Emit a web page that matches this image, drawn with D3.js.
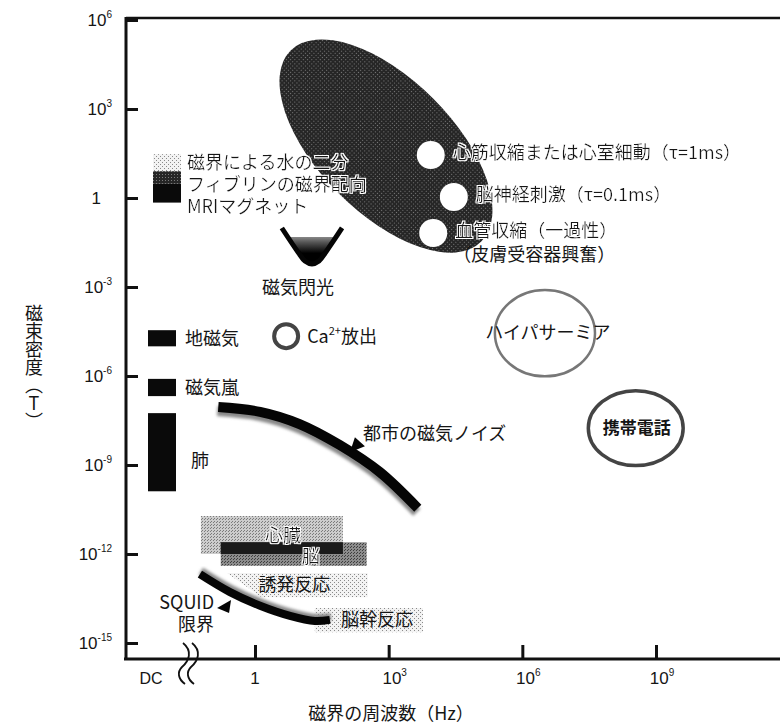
<!DOCTYPE html>
<html>
<head>
<meta charset="utf-8">
<script src="https://cdn.jsdelivr.net/npm/d3@7"></script>
<style>
body { margin: 0; background: #fff; }
svg text { font-family: "Noto Sans CJK JP", "Noto Sans", sans-serif; fill: #151515; }
svg text.tick { font-family: "Liberation Sans", "DejaVu Sans", sans-serif; }
</style>
</head>
<body>
<div id="chart"></div>
<script>
// ---- data (frequency in Hz, flux density in T) ----
var xTicks = [1, 1e3, 1e6, 1e9];
var xTickExp = ["", "3", "6", "9"];
var yTicks = [1e6, 1e3, 1, 1e-3, 1e-6, 1e-9, 1e-12, 1e-15];
var yTickExp = ["6", "3", "", "-3", "-6", "-9", "-12", "-15"];

// DC column: [label, Bmin, Bmax]
var dcStack = [["磁界による水の二分", 8, 30], ["フィブリンの磁界配向", 3, 8], ["MRIマグネット", 0.7, 3]];
var dcBars = [["地磁気", 1e-5, 3.5e-5], ["磁気嵐", 2.1e-7, 8e-7], ["肺", 1.3e-10, 5.6e-8]];

// stimulation region: major axis end points [f, B]
var stimAxis = [[6.3, 9.4e4], [1.2e5, 0.034]];
var stimPoints = [["心筋収縮または心室細動（τ=1ms）", 8800, 28],
                  ["脳神経刺激（τ=0.1ms）", 2.9e4, 1.08],
                  ["血管収縮（一過性）", 1e4, 0.066]];
var stimNote = "（皮膚受容器興奮）";

// magnetophosphene threshold
var phosF = [4, 9.2, 13.2, 19, 27.3, 39, 90];
var phosB = [0.0975, 0.0151, 0.0075, 0.006, 0.0075, 0.0151, 0.0975];
var phosFillTop = 0.048;

var caPoint = [5, 2.2e-5];

var hyperF = [2.3e5, 4.5e7], hyperB = [9e-7, 8.5e-4];
var mobileF = [2.8e7, 4.4e9], mobileB = [8.5e-10, 3.6e-7];

var noiseF = [0.15, 1.3, 10, 80, 630, 4500];
var noiseB = [9e-8, 6.2e-8, 2.4e-8, 4.7e-9, 5.8e-10, 3.5e-11];
var noiseArrow = [135, 2.7e-9];

var squidF = [0.058, 0.275, 1.3, 6.1, 22, 48];
var squidB = [2.1e-13, 5.2e-14, 1.8e-14, 8.2e-15, 5.5e-15, 6e-15];
var squidArrow = [0.29, 2.8e-14];

// bio-magnetic signals: [label, fmin, fmax, Bmin, Bmax]
var bioBoxes = [["心臓", 0.061, 94, 1e-12, 1.9e-11],
                ["脳", 0.17, 320, 4e-13, 2.5e-12],
                ["誘発反応", 0.235, 340, 3.5e-14, 2.3e-13],
                ["脳幹反応", 22, 5900, 2.3e-15, 1.5e-14]];
var evokedCutF = 1.4;

// ---- styles ----
var bioFill = {"心臓": "url(#heartPat)", "脳": "url(#brainPat)", "誘発反応": "url(#lightDots)", "脳幹反応": "url(#lightDots)"};
var bioLabelDx = {"心臓": 11, "脳": 17, "誘発反応": -3, "脳幹反応": 8};
var bioLabelDy = {"心臓": 1, "脳": 3, "誘発反応": 0, "脳幹反応": 0};
var stackFill = ["url(#lightDots)", "url(#mesh)", "#0a0a0a"];

var W = 780, H = 726;
var axisX = 126, axisY = 659, topY = 18;

var svg = d3.select("#chart").append("svg")
    .attr("width", W)
    .attr("height", H);

var x = d3.scaleLog().domain([1, 1e9]).range([255, 656]);
var y = d3.scaleLog().domain([1e-15, 1e6]).range([643, 20]);
var dc = d3.scaleBand().domain(["DC"]).range([148, 176]);

// patterns
var defs = svg.append("defs");
function pattern(id, size, bg, dots, col) {
    var p = defs.append("pattern").attr("id", id)
        .attr("patternUnits", "userSpaceOnUse")
        .attr("width", size).attr("height", size);
    p.append("rect").attr("width", size).attr("height", size).attr("fill", bg);
    dots.forEach(function(d) {
        p.append("rect").attr("x", d[0]).attr("y", d[1]).attr("width", 1).attr("height", 1).attr("fill", col);
    });
}
pattern("lightDots", 4, "#f3f3f3", [[0, 0], [2, 2]], "#8a8a8a");
pattern("heartPat", 3, "#cdcdcd", [[0, 0], [1, 2]], "#7c7c7c");
pattern("brainPat", 3, "#8c8c8c", [[0, 0], [2, 1]], "#3e3e3e");
pattern("mesh", 3, "#262626", [[0, 0]], "#7a7a7a");

var grad = defs.append("linearGradient").attr("id", "phosGrad")
    .attr("x1", 0).attr("x2", 0).attr("y1", 0).attr("y2", 1);
grad.append("stop").attr("offset", "0%").attr("stop-color", "#dcdcdc");
grad.append("stop").attr("offset", "40%").attr("stop-color", "#555");
grad.append("stop").attr("offset", "70%").attr("stop-color", "#000");

defs.append("filter").attr("id", "fuzz")
    .append("feGaussianBlur").attr("stdDeviation", 1.6);

// white outline for texts lying on dark areas
var halo = defs.append("filter").attr("id", "halo")
    .attr("x", "-5%").attr("y", "-20%").attr("width", "110%").attr("height", "140%");
halo.append("feMorphology").attr("in", "SourceAlpha").attr("operator", "dilate").attr("radius", 1.4).attr("result", "thick");
halo.append("feFlood").attr("flood-color", "#fff").attr("result", "white");
halo.append("feComposite").attr("in", "white").attr("in2", "thick").attr("operator", "in").attr("result", "outline");
var hm = halo.append("feMerge");
hm.append("feMergeNode").attr("in", "outline");
hm.append("feMergeNode").attr("in", "SourceGraphic");

// ---- frame and axes ----
svg.append("line").attr("x1", axisX).attr("x2", W).attr("y1", topY).attr("y2", topY)
    .attr("stroke", "#111").attr("stroke-width", 2.5);
svg.append("line").attr("x1", axisX).attr("x2", axisX).attr("y1", topY - 1).attr("y2", axisY + 1)
    .attr("stroke", "#111").attr("stroke-width", 3);
svg.append("line").attr("x1", axisX - 2).attr("x2", W).attr("y1", axisY).attr("y2", axisY)
    .attr("stroke", "#111").attr("stroke-width", 3);

var yAxis = svg.append("g").attr("transform", "translate(" + axisX + ",0)")
    .call(d3.axisRight(y).tickValues(yTicks).tickSize(12).tickSizeOuter(0).tickFormat(""));
yAxis.select(".domain").remove();
yAxis.selectAll("line").attr("stroke", "#111").attr("stroke-width", 3);

var xAxis = svg.append("g").attr("transform", "translate(0," + axisY + ")")
    .call(d3.axisTop(x).tickValues(xTicks).tickSize(14).tickSizeOuter(0).tickFormat(""));
xAxis.select(".domain").remove();
xAxis.selectAll("line").attr("stroke", "#111").attr("stroke-width", 3);

// y tick labels
yTicks.forEach(function(t, i) {
    var tx = svg.append("text")
        .attr("class", "tick")
        .attr("y", y(t) + 6)
        .attr("text-anchor", "end")
        .style("font-size", "17px");
    if (yTickExp[i] === "") {
        tx.attr("x", axisX - 25).text("1");
    } else {
        tx.attr("x", axisX - 14).text("10");
        tx.append("tspan").attr("dy", -8).style("font-size", "10px").text(yTickExp[i]);
    }
});

// x tick labels
xTicks.forEach(function(t, i) {
    var tx = svg.append("text")
        .attr("class", "tick")
        .attr("y", axisY + 25)
        .attr("text-anchor", "middle")
        .style("font-size", "17px");
    if (xTickExp[i] === "") {
        tx.attr("x", x(t)).text("1");
    } else {
        tx.attr("x", x(t) + 6).text("10");
        tx.append("tspan").attr("dy", -8).style("font-size", "10px").text(xTickExp[i]);
    }
});
svg.append("text")
    .attr("class", "tick")
    .attr("x", dc("DC") + 3)
    .attr("y", axisY + 25)
    .attr("text-anchor", "middle")
    .style("font-size", "16px")
    .text("DC");

// axis break
[0, 9].forEach(function(off) {
    var bx = 183 + off;
    svg.append("path")
        .attr("d", "M" + bx + "," + (axisY - 16) + " C" + (bx + 10) + "," + (axisY - 8) + " " + (bx + 6) + "," + (axisY + 2) + " " + (bx - 1) + "," + (axisY + 8) +
            " C" + (bx - 6) + "," + (axisY + 13) + " " + (bx - 5) + "," + (axisY + 20) + " " + (bx + 2) + "," + (axisY + 25))
        .attr("fill", "none").attr("stroke", "#111").attr("stroke-width", 1.8);
});

// axis titles
svg.append("text")
    .attr("x", 391).attr("y", 720)
    .attr("text-anchor", "middle")
    .style("font-size", "18px")
    .text("磁界の周波数（Hz）");
svg.append("text")
    .attr("x", 34).attr("y", 367)
    .attr("text-anchor", "middle")
    .style("font-size", "18px")
    .style("writing-mode", "vertical-rl")
    .style("text-orientation", "upright")
    .text("磁束密度（T）");

// ---- stimulation ellipse ----
var p0 = [x(stimAxis[0][0]), y(stimAxis[0][1])];
var p1 = [x(stimAxis[1][0]), y(stimAxis[1][1])];
var ecx = (p0[0] + p1[0]) / 2, ecy = (p0[1] + p1[1]) / 2;
var ea = Math.hypot(p1[0] - p0[0], p1[1] - p0[1]) / 2;
var eang = Math.atan2(p1[1] - p0[1], p1[0] - p0[0]) * 180 / Math.PI;
svg.append("ellipse")
    .attr("cx", 0).attr("cy", 0)
    .attr("rx", ea).attr("ry", 67)
    .attr("transform", "translate(" + ecx + "," + ecy + ") rotate(" + eang + ")")
    .attr("fill", "url(#mesh)");

svg.selectAll(".stim").data(stimPoints).enter().append("circle")
    .attr("class", "stim")
    .attr("cx", function(d) { return x(d[1]); })
    .attr("cy", function(d) { return y(d[2]); })
    .attr("r", 14)
    .attr("fill", "#fff");

// ---- DC column ----
svg.selectAll(".stack").data(dcStack).enter().append("rect")
    .attr("class", "stack")
    .attr("x", dc("DC") + 5)
    .attr("width", dc.bandwidth())
    .attr("y", function(d) { return y(d[2]); })
    .attr("height", function(d) { return y(d[1]) - y(d[2]); })
    .attr("fill", function(d, i) { return stackFill[i]; });

svg.selectAll(".bar").data(dcBars).enter().append("rect")
    .attr("class", "bar")
    .attr("x", dc("DC"))
    .attr("width", dc.bandwidth())
    .attr("y", function(d) { return y(d[2]); })
    .attr("height", function(d) { return y(d[1]) - y(d[2]); })
    .attr("fill", "#0a0a0a");

// ---- bio signal boxes ----
bioBoxes.forEach(function(b) {
    var x0 = x(b[1]), x1 = x(b[2]), y0 = y(b[4]), y1 = y(b[3]);
    var pts;
    if (b[0] === "誘発反応") {
        pts = [[x0, y0], [x1, y0], [x1, y1], [x(evokedCutF), y1]];
    } else {
        pts = [[x0, y0], [x1, y0], [x1, y1], [x0, y1]];
    }
    svg.append("path")
        .attr("d", "M" + pts.join("L") + "Z")
        .attr("fill", bioFill[b[0]]);
});
// heart / brain overlap
var hb = bioBoxes[0], br = bioBoxes[1];
svg.append("rect")
    .attr("x", x(Math.max(hb[1], br[1])))
    .attr("width", x(Math.min(hb[2], br[2])) - x(Math.max(hb[1], br[1])))
    .attr("y", y(Math.min(hb[4], br[4])))
    .attr("height", y(Math.max(hb[3], br[3])) - y(Math.min(hb[4], br[4])))
    .attr("fill", "#1a1a1a");

// ---- curves ----
var line = d3.line()
    .x(function(d) { return x(d[0]); })
    .y(function(d) { return y(d[1]); })
    .curve(d3.curveCatmullRom);

var noiseData = noiseF.map(function(f, i) { return [f, noiseB[i]]; });
svg.append("path").datum(noiseData)
    .attr("d", line)
    .attr("transform", "translate(-1,4)")
    .attr("fill", "none").attr("stroke", "#888").attr("stroke-width", 10)
    .attr("filter", "url(#fuzz)");
svg.append("path").datum(noiseData)
    .attr("d", line)
    .attr("fill", "none").attr("stroke", "#050505").attr("stroke-width", 10);

var squidData = squidF.map(function(f, i) { return [f, squidB[i]]; });
svg.append("path").datum(squidData)
    .attr("d", line)
    .attr("transform", "translate(1,-3)")
    .attr("fill", "none").attr("stroke", "#888").attr("stroke-width", 8)
    .attr("filter", "url(#fuzz)");
svg.append("path").datum(squidData)
    .attr("d", line)
    .attr("fill", "none").attr("stroke", "#050505").attr("stroke-width", 8);

// magnetophosphene
var phosData = phosF.map(function(f, i) { return [f, phosB[i]]; });
var phosArea = d3.area()
    .x(function(d) { return x(d[0]); })
    .y0(y(phosFillTop))
    .y1(function(d) { return y(d[1]); })
    .curve(d3.curveCatmullRom);
var phosClip = defs.append("clipPath").attr("id", "phosClip");
phosClip.append("rect")
    .attr("x", x(phosF[0])).attr("y", y(phosFillTop))
    .attr("width", x(phosF[6]) - x(phosF[0]))
    .attr("height", y(phosB[3]) - y(phosFillTop) + 2);
svg.append("path").datum(phosData)
    .attr("d", phosArea)
    .attr("clip-path", "url(#phosClip)")
    .attr("fill", "url(#phosGrad)");
svg.append("path").datum(phosData)
    .attr("d", line)
    .attr("fill", "none").attr("stroke", "#050505").attr("stroke-width", 5);

// Ca2+ ring
svg.append("circle")
    .attr("cx", x(caPoint[0])).attr("cy", y(caPoint[1]))
    .attr("r", 12)
    .attr("fill", "#fff").attr("stroke", "#444").attr("stroke-width", 4);

// hyperthermia and mobile phone
svg.append("ellipse")
    .attr("cx", (x(hyperF[0]) + x(hyperF[1])) / 2)
    .attr("cy", (y(hyperB[0]) + y(hyperB[1])) / 2)
    .attr("rx", (x(hyperF[1]) - x(hyperF[0])) / 2 - 1)
    .attr("ry", (y(hyperB[0]) - y(hyperB[1])) / 2 - 1)
    .attr("fill", "#fff").attr("stroke", "#777").attr("stroke-width", 2.5);
svg.append("ellipse")
    .attr("cx", (x(mobileF[0]) + x(mobileF[1])) / 2)
    .attr("cy", (y(mobileB[0]) + y(mobileB[1])) / 2)
    .attr("rx", (x(mobileF[1]) - x(mobileF[0])) / 2 - 1.5)
    .attr("ry", (y(mobileB[0]) - y(mobileB[1])) / 2 - 1.5)
    .attr("fill", "#fff").attr("stroke", "#444").attr("stroke-width", 3.5);

// pointer triangles
var na = [x(noiseArrow[0]), y(noiseArrow[1])];
svg.append("path")
    .attr("d", "M" + na[0] + "," + na[1] + " L" + (na[0] + 5) + "," + (na[1] - 15) + " L" + (na[0] + 15) + "," + (na[1] - 6) + "Z")
    .attr("fill", "#050505");
var sa = [x(squidArrow[0]), y(squidArrow[1])];
svg.append("path")
    .attr("d", "M" + sa[0] + "," + sa[1] + " L" + (sa[0] - 14) + "," + (sa[1] + 8) + " L" + (sa[0] - 2) + "," + (sa[1] + 13) + "Z")
    .attr("fill", "#050505");

// ---- labels ----
function label(tx, ty, str, anchor, outlined) {
    var t = svg.append("text")
        .attr("x", tx).attr("y", ty)
        .attr("text-anchor", anchor || "start")
        .style("font-size", "18px")
        .text(str);
    if (outlined) t.attr("filter", "url(#halo)");
    return t;
}

dcStack.forEach(function(d, i) {
    label(dc("DC") + dc.bandwidth() + 11, y(dcStack[0][1] * 1.9) + 6 + i * 22, d[0], "start", true);
});
dcBars.forEach(function(d, i) {
    var mid = Math.sqrt(d[1] * d[2]);
    if (i === 2) {
        label(dc("DC") + dc.bandwidth() + 15, y(mid) + 15, d[0]);
    } else {
        label(dc("DC") + dc.bandwidth() + 9, y(mid) + 7, d[0]);
    }
});

stimPoints.forEach(function(d) {
    label(x(d[1]) + 22, y(d[2]) + 4, d[0], "start", true);
});
label(x(stimPoints[2][1]) + 20, y(stimPoints[2][2]) + 28, stimNote);

label(x(phosF[3]) - 14, y(phosB[3]) + 30, "磁気閃光", "middle");

var caT = label(x(caPoint[0]) + 21, y(caPoint[1]) + 7, "Ca");
caT.append("tspan").attr("dy", -8).style("font-size", "11px").text("2+");
caT.append("tspan").attr("dy", 8).text("放出");

label((x(hyperF[0]) + x(hyperF[1])) / 2 + 3, (y(hyperB[0]) + y(hyperB[1])) / 2 + 6, "ハイパサーミア", "middle");
label((x(mobileF[0]) + x(mobileF[1])) / 2 + 1, (y(mobileB[0]) + y(mobileB[1])) / 2 + 6, "携帯電話", "middle")
    .style("font-weight", "bold").style("font-size", "17px");

label(na[0] + 13, na[1] - 12, "都市の磁気ノイズ");

bioBoxes.forEach(function(b) {
    var cx = (x(b[1]) + x(b[2])) / 2 + bioLabelDx[b[0]];
    var cy = (y(b[3]) + y(b[4])) / 2 + bioLabelDy[b[0]];
    label(cx, cy + 6, b[0], "middle", b[0] === "心臓" || b[0] === "脳");
});

label(sa[0] - 17, sa[1] + 9, "SQUID", "end");
label(sa[0] - 17, sa[1] + 31, "限界", "end");
</script>
</body>
</html>
